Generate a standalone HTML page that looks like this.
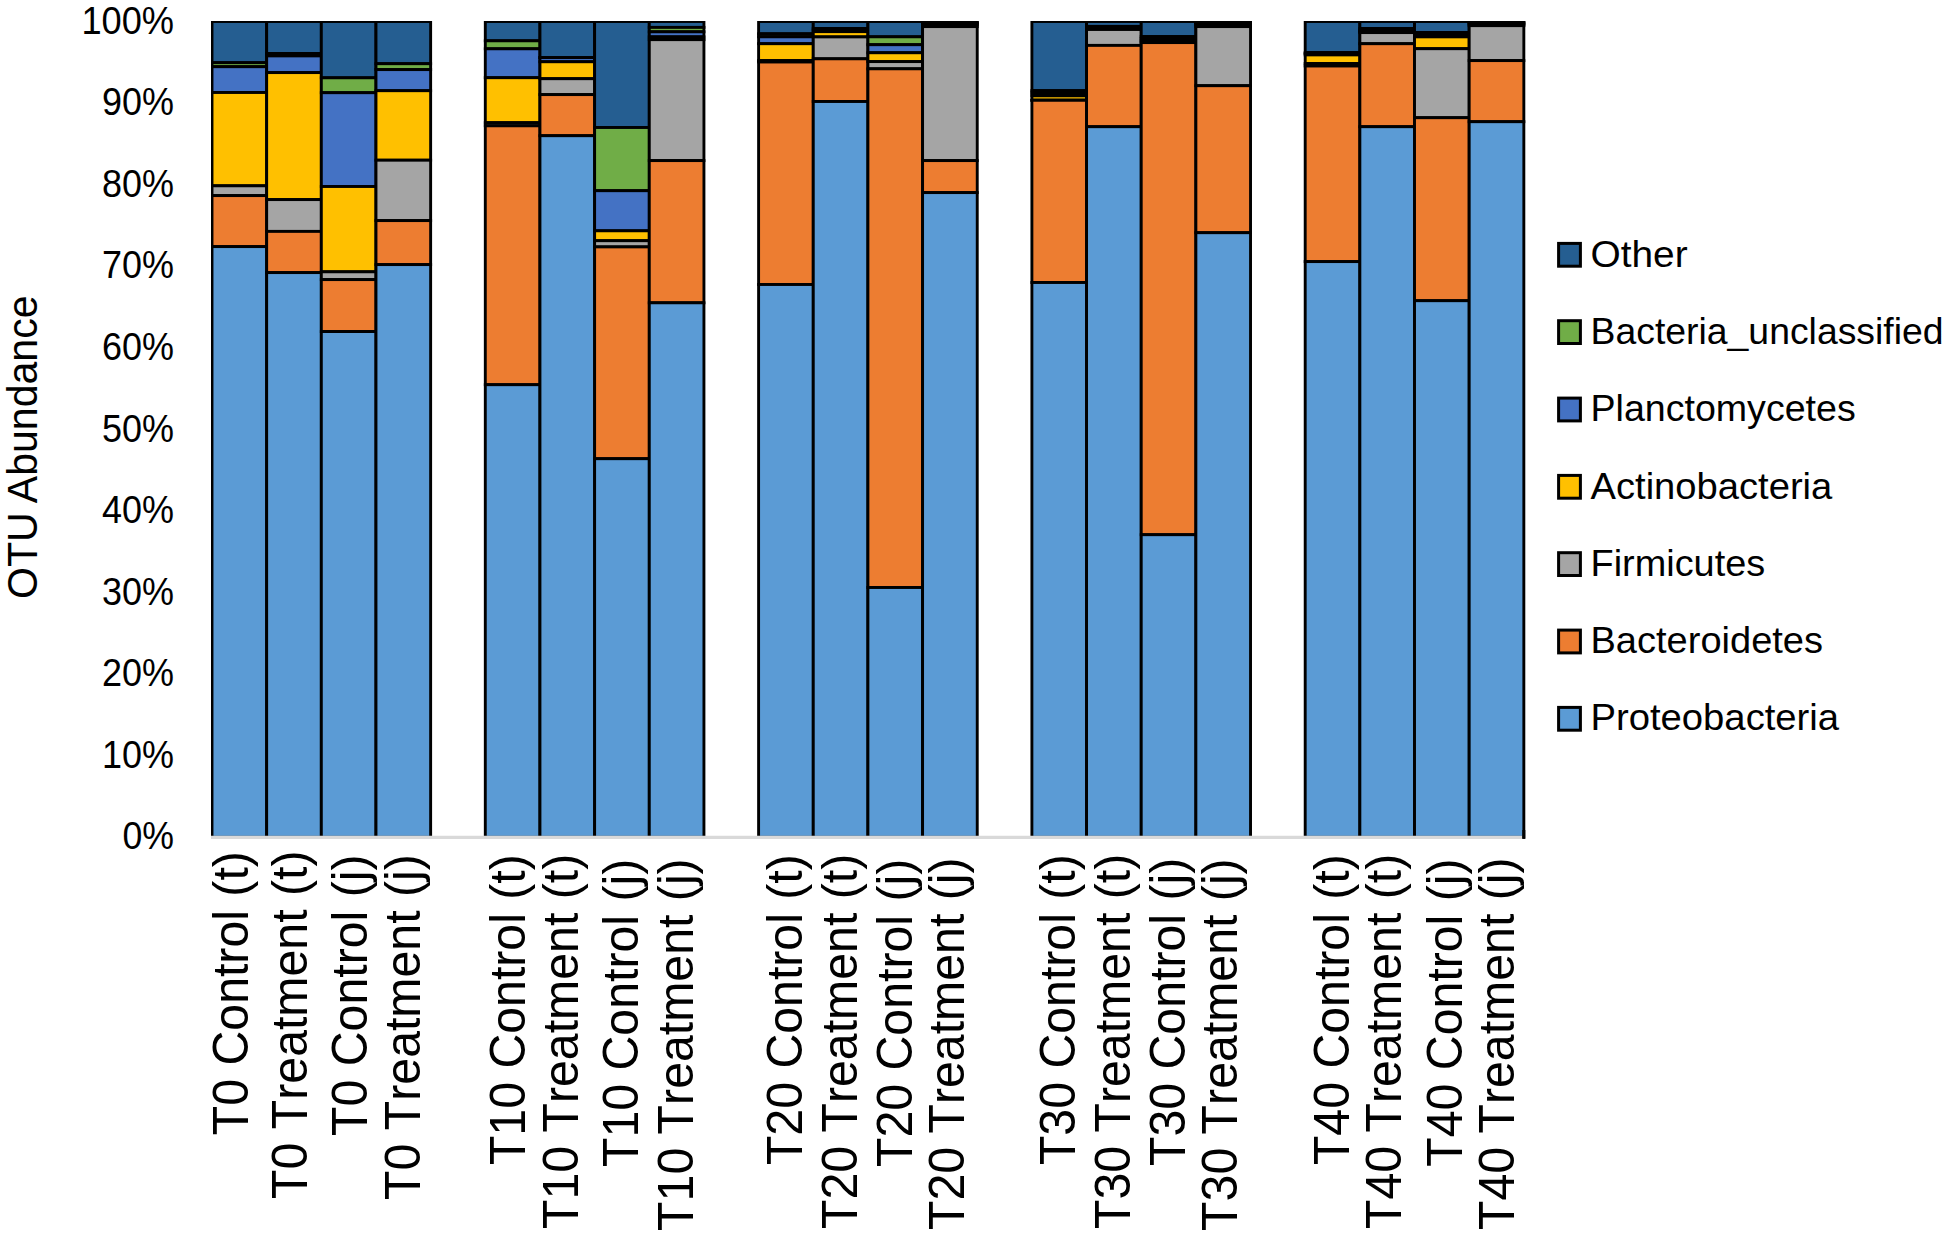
<!DOCTYPE html>
<html lang="en">
<head>
<meta charset="utf-8">
<title>OTU Abundance</title>
<style>
html,body{margin:0;padding:0;background:#fff;}
body{width:1947px;height:1236px;overflow:hidden;}
svg{display:block;}
text{font-family:"Liberation Sans",sans-serif;fill:#000;}
.seg{stroke:#000;stroke-width:2.9;stroke-linejoin:miter;}
.xl{font-size:48.25px;font-kerning:none;}
.yt{font-size:38.3px;text-anchor:end;}
.lg{font-size:37.6px;}
.ttl{font-size:42px;}
</style>
</head>
<body>
<svg width="1947" height="1236" viewBox="0 0 1947 1236">
<defs><clipPath id="plot"><rect x="211" y="21" width="1330" height="825"/></clipPath></defs>
<rect x="0" y="0" width="1947" height="1236" fill="#ffffff"/>
<g clip-path="url(#plot)">
<rect class="seg" x="212.00" y="21.50" width="54.66" height="41.20" fill="#255E91"/>
<rect class="seg" x="212.00" y="62.70" width="54.66" height="4.00" fill="#70AD47"/>
<rect class="seg" x="212.00" y="66.70" width="54.66" height="25.80" fill="#4472C4"/>
<rect class="seg" x="212.00" y="92.50" width="54.66" height="93.30" fill="#FFC000"/>
<rect class="seg" x="212.00" y="185.80" width="54.66" height="9.80" fill="#A5A5A5"/>
<rect class="seg" x="212.00" y="195.60" width="54.66" height="51.00" fill="#ED7D31"/>
<rect class="seg" x="212.00" y="246.60" width="54.66" height="590.70" fill="#5B9BD5"/>
<rect class="seg" x="266.66" y="21.50" width="54.66" height="32.00" fill="#255E91"/>
<rect class="seg" x="266.66" y="53.50" width="54.66" height="2.40" fill="#70AD47"/>
<rect class="seg" x="266.66" y="55.90" width="54.66" height="16.70" fill="#4472C4"/>
<rect class="seg" x="266.66" y="72.60" width="54.66" height="127.00" fill="#FFC000"/>
<rect class="seg" x="266.66" y="199.60" width="54.66" height="31.80" fill="#A5A5A5"/>
<rect class="seg" x="266.66" y="231.40" width="54.66" height="41.20" fill="#ED7D31"/>
<rect class="seg" x="266.66" y="272.60" width="54.66" height="564.70" fill="#5B9BD5"/>
<rect class="seg" x="321.32" y="21.50" width="54.66" height="56.30" fill="#255E91"/>
<rect class="seg" x="321.32" y="77.80" width="54.66" height="14.90" fill="#70AD47"/>
<rect class="seg" x="321.32" y="92.70" width="54.66" height="93.80" fill="#4472C4"/>
<rect class="seg" x="321.32" y="186.50" width="54.66" height="85.30" fill="#FFC000"/>
<rect class="seg" x="321.32" y="271.80" width="54.66" height="7.80" fill="#A5A5A5"/>
<rect class="seg" x="321.32" y="279.60" width="54.66" height="51.95" fill="#ED7D31"/>
<rect class="seg" x="321.32" y="331.55" width="54.66" height="505.75" fill="#5B9BD5"/>
<rect class="seg" x="375.98" y="21.50" width="54.66" height="42.20" fill="#255E91"/>
<rect class="seg" x="375.98" y="63.70" width="54.66" height="5.90" fill="#70AD47"/>
<rect class="seg" x="375.98" y="69.60" width="54.66" height="21.10" fill="#4472C4"/>
<rect class="seg" x="375.98" y="90.70" width="54.66" height="69.50" fill="#FFC000"/>
<rect class="seg" x="375.98" y="160.20" width="54.66" height="60.40" fill="#A5A5A5"/>
<rect class="seg" x="375.98" y="220.60" width="54.66" height="44.00" fill="#ED7D31"/>
<rect class="seg" x="375.98" y="264.60" width="54.66" height="572.70" fill="#5B9BD5"/>
<rect class="seg" x="485.30" y="21.50" width="54.66" height="19.30" fill="#255E91"/>
<rect class="seg" x="485.30" y="40.80" width="54.66" height="8.00" fill="#70AD47"/>
<rect class="seg" x="485.30" y="48.80" width="54.66" height="28.90" fill="#4472C4"/>
<rect class="seg" x="485.30" y="77.70" width="54.66" height="45.00" fill="#FFC000"/>
<rect class="seg" x="485.30" y="122.70" width="54.66" height="3.10" fill="#A5A5A5"/>
<rect class="seg" x="485.30" y="125.80" width="54.66" height="258.90" fill="#ED7D31"/>
<rect class="seg" x="485.30" y="384.70" width="54.66" height="452.60" fill="#5B9BD5"/>
<rect class="seg" x="539.96" y="21.50" width="54.66" height="36.05" fill="#255E91"/>
<rect class="seg" x="539.96" y="57.55" width="54.66" height="0.05" fill="#70AD47"/>
<rect class="seg" x="539.96" y="57.60" width="54.66" height="4.15" fill="#4472C4"/>
<rect class="seg" x="539.96" y="61.75" width="54.66" height="16.95" fill="#FFC000"/>
<rect class="seg" x="539.96" y="78.70" width="54.66" height="15.90" fill="#A5A5A5"/>
<rect class="seg" x="539.96" y="94.60" width="54.66" height="41.10" fill="#ED7D31"/>
<rect class="seg" x="539.96" y="135.70" width="54.66" height="701.60" fill="#5B9BD5"/>
<rect class="seg" x="594.62" y="21.50" width="54.66" height="106.00" fill="#255E91"/>
<rect class="seg" x="594.62" y="127.50" width="54.66" height="63.20" fill="#70AD47"/>
<rect class="seg" x="594.62" y="190.70" width="54.66" height="40.10" fill="#4472C4"/>
<rect class="seg" x="594.62" y="230.80" width="54.66" height="9.90" fill="#FFC000"/>
<rect class="seg" x="594.62" y="240.70" width="54.66" height="6.20" fill="#A5A5A5"/>
<rect class="seg" x="594.62" y="246.90" width="54.66" height="211.80" fill="#ED7D31"/>
<rect class="seg" x="594.62" y="458.70" width="54.66" height="378.60" fill="#5B9BD5"/>
<rect class="seg" x="649.28" y="21.50" width="54.66" height="5.90" fill="#255E91"/>
<rect class="seg" x="649.28" y="27.40" width="54.66" height="4.40" fill="#70AD47"/>
<rect class="seg" x="649.28" y="31.80" width="54.66" height="5.05" fill="#4472C4"/>
<rect class="seg" x="649.28" y="36.85" width="54.66" height="2.80" fill="#FFC000"/>
<rect class="seg" x="649.28" y="39.65" width="54.66" height="120.95" fill="#A5A5A5"/>
<rect class="seg" x="649.28" y="160.60" width="54.66" height="142.20" fill="#ED7D31"/>
<rect class="seg" x="649.28" y="302.80" width="54.66" height="534.50" fill="#5B9BD5"/>
<rect class="seg" x="758.60" y="21.50" width="54.66" height="12.30" fill="#255E91"/>
<rect class="seg" x="758.60" y="33.80" width="54.66" height="3.00" fill="#70AD47"/>
<rect class="seg" x="758.60" y="36.80" width="54.66" height="6.90" fill="#4472C4"/>
<rect class="seg" x="758.60" y="43.70" width="54.66" height="16.90" fill="#FFC000"/>
<rect class="seg" x="758.60" y="60.60" width="54.66" height="1.40" fill="#A5A5A5"/>
<rect class="seg" x="758.60" y="62.00" width="54.66" height="222.50" fill="#ED7D31"/>
<rect class="seg" x="758.60" y="284.50" width="54.66" height="552.80" fill="#5B9BD5"/>
<rect class="seg" x="813.26" y="21.50" width="54.66" height="7.05" fill="#255E91"/>
<rect class="seg" x="813.26" y="28.55" width="54.66" height="1.45" fill="#70AD47"/>
<rect class="seg" x="813.26" y="30.00" width="54.66" height="1.65" fill="#4472C4"/>
<rect class="seg" x="813.26" y="31.65" width="54.66" height="5.25" fill="#FFC000"/>
<rect class="seg" x="813.26" y="36.90" width="54.66" height="21.90" fill="#A5A5A5"/>
<rect class="seg" x="813.26" y="58.80" width="54.66" height="42.70" fill="#ED7D31"/>
<rect class="seg" x="813.26" y="101.50" width="54.66" height="735.80" fill="#5B9BD5"/>
<rect class="seg" x="867.92" y="21.50" width="54.66" height="15.30" fill="#255E91"/>
<rect class="seg" x="867.92" y="36.80" width="54.66" height="7.90" fill="#70AD47"/>
<rect class="seg" x="867.92" y="44.70" width="54.66" height="8.05" fill="#4472C4"/>
<rect class="seg" x="867.92" y="52.75" width="54.66" height="8.85" fill="#FFC000"/>
<rect class="seg" x="867.92" y="61.60" width="54.66" height="7.20" fill="#A5A5A5"/>
<rect class="seg" x="867.92" y="68.80" width="54.66" height="518.70" fill="#ED7D31"/>
<rect class="seg" x="867.92" y="587.50" width="54.66" height="249.80" fill="#5B9BD5"/>
<rect class="seg" x="922.58" y="21.50" width="54.66" height="1.00" fill="#255E91"/>
<rect class="seg" x="922.58" y="22.50" width="54.66" height="1.00" fill="#70AD47"/>
<rect class="seg" x="922.58" y="23.50" width="54.66" height="1.00" fill="#4472C4"/>
<rect class="seg" x="922.58" y="24.50" width="54.66" height="2.10" fill="#FFC000"/>
<rect class="seg" x="922.58" y="26.60" width="54.66" height="134.00" fill="#A5A5A5"/>
<rect class="seg" x="922.58" y="160.60" width="54.66" height="32.00" fill="#ED7D31"/>
<rect class="seg" x="922.58" y="192.60" width="54.66" height="644.70" fill="#5B9BD5"/>
<rect class="seg" x="1031.90" y="21.50" width="54.66" height="69.15" fill="#255E91"/>
<rect class="seg" x="1031.90" y="90.65" width="54.66" height="2.35" fill="#70AD47"/>
<rect class="seg" x="1031.90" y="93.00" width="54.66" height="2.80" fill="#4472C4"/>
<rect class="seg" x="1031.90" y="95.80" width="54.66" height="4.40" fill="#FFC000"/>
<rect class="seg" x="1031.90" y="100.20" width="54.66" height="0.10" fill="#A5A5A5"/>
<rect class="seg" x="1031.90" y="100.30" width="54.66" height="182.20" fill="#ED7D31"/>
<rect class="seg" x="1031.90" y="282.50" width="54.66" height="554.80" fill="#5B9BD5"/>
<rect class="seg" x="1086.56" y="21.50" width="54.66" height="4.90" fill="#255E91"/>
<rect class="seg" x="1086.56" y="26.40" width="54.66" height="1.10" fill="#70AD47"/>
<rect class="seg" x="1086.56" y="27.50" width="54.66" height="1.00" fill="#4472C4"/>
<rect class="seg" x="1086.56" y="28.50" width="54.66" height="1.00" fill="#FFC000"/>
<rect class="seg" x="1086.56" y="29.50" width="54.66" height="15.90" fill="#A5A5A5"/>
<rect class="seg" x="1086.56" y="45.40" width="54.66" height="81.30" fill="#ED7D31"/>
<rect class="seg" x="1086.56" y="126.70" width="54.66" height="710.60" fill="#5B9BD5"/>
<rect class="seg" x="1141.22" y="21.50" width="54.66" height="15.10" fill="#255E91"/>
<rect class="seg" x="1141.22" y="36.60" width="54.66" height="1.90" fill="#70AD47"/>
<rect class="seg" x="1141.22" y="38.50" width="54.66" height="1.50" fill="#4472C4"/>
<rect class="seg" x="1141.22" y="40.00" width="54.66" height="1.50" fill="#FFC000"/>
<rect class="seg" x="1141.22" y="41.50" width="54.66" height="1.10" fill="#A5A5A5"/>
<rect class="seg" x="1141.22" y="42.60" width="54.66" height="492.10" fill="#ED7D31"/>
<rect class="seg" x="1141.22" y="534.70" width="54.66" height="302.60" fill="#5B9BD5"/>
<rect class="seg" x="1195.88" y="21.50" width="54.66" height="1.00" fill="#255E91"/>
<rect class="seg" x="1195.88" y="22.50" width="54.66" height="1.00" fill="#70AD47"/>
<rect class="seg" x="1195.88" y="23.50" width="54.66" height="1.00" fill="#4472C4"/>
<rect class="seg" x="1195.88" y="24.50" width="54.66" height="2.10" fill="#FFC000"/>
<rect class="seg" x="1195.88" y="26.60" width="54.66" height="59.10" fill="#A5A5A5"/>
<rect class="seg" x="1195.88" y="85.70" width="54.66" height="147.00" fill="#ED7D31"/>
<rect class="seg" x="1195.88" y="232.70" width="54.66" height="604.60" fill="#5B9BD5"/>
<rect class="seg" x="1305.20" y="21.50" width="54.66" height="31.10" fill="#255E91"/>
<rect class="seg" x="1305.20" y="52.60" width="54.66" height="0.90" fill="#70AD47"/>
<rect class="seg" x="1305.20" y="53.50" width="54.66" height="1.40" fill="#4472C4"/>
<rect class="seg" x="1305.20" y="54.90" width="54.66" height="8.65" fill="#FFC000"/>
<rect class="seg" x="1305.20" y="63.55" width="54.66" height="2.45" fill="#A5A5A5"/>
<rect class="seg" x="1305.20" y="66.00" width="54.66" height="195.60" fill="#ED7D31"/>
<rect class="seg" x="1305.20" y="261.60" width="54.66" height="575.70" fill="#5B9BD5"/>
<rect class="seg" x="1359.86" y="21.50" width="54.66" height="7.05" fill="#255E91"/>
<rect class="seg" x="1359.86" y="28.55" width="54.66" height="1.45" fill="#70AD47"/>
<rect class="seg" x="1359.86" y="30.00" width="54.66" height="1.50" fill="#4472C4"/>
<rect class="seg" x="1359.86" y="31.50" width="54.66" height="1.10" fill="#FFC000"/>
<rect class="seg" x="1359.86" y="32.60" width="54.66" height="11.10" fill="#A5A5A5"/>
<rect class="seg" x="1359.86" y="43.70" width="54.66" height="83.00" fill="#ED7D31"/>
<rect class="seg" x="1359.86" y="126.70" width="54.66" height="710.60" fill="#5B9BD5"/>
<rect class="seg" x="1414.52" y="21.50" width="54.66" height="11.05" fill="#255E91"/>
<rect class="seg" x="1414.52" y="32.55" width="54.66" height="1.45" fill="#70AD47"/>
<rect class="seg" x="1414.52" y="34.00" width="54.66" height="2.85" fill="#4472C4"/>
<rect class="seg" x="1414.52" y="36.85" width="54.66" height="11.85" fill="#FFC000"/>
<rect class="seg" x="1414.52" y="48.70" width="54.66" height="69.00" fill="#A5A5A5"/>
<rect class="seg" x="1414.52" y="117.70" width="54.66" height="183.00" fill="#ED7D31"/>
<rect class="seg" x="1414.52" y="300.70" width="54.66" height="536.60" fill="#5B9BD5"/>
<rect class="seg" x="1469.18" y="21.50" width="54.66" height="0.80" fill="#255E91"/>
<rect class="seg" x="1469.18" y="22.30" width="54.66" height="0.90" fill="#70AD47"/>
<rect class="seg" x="1469.18" y="23.20" width="54.66" height="1.00" fill="#4472C4"/>
<rect class="seg" x="1469.18" y="24.20" width="54.66" height="1.45" fill="#FFC000"/>
<rect class="seg" x="1469.18" y="25.65" width="54.66" height="34.95" fill="#A5A5A5"/>
<rect class="seg" x="1469.18" y="60.60" width="54.66" height="61.10" fill="#ED7D31"/>
<rect class="seg" x="1469.18" y="121.70" width="54.66" height="715.60" fill="#5B9BD5"/>
</g>
<line x1="211" y1="837.35" x2="1522.3" y2="837.35" stroke="#D9D9D9" stroke-width="3.2"/>
<line x1="1523.84" y1="830" x2="1523.84" y2="838.8" stroke="#000" stroke-width="2.9"/>
<text class="yt" x="174.1" y="33.8" textLength="92.7" lengthAdjust="spacingAndGlyphs">100%</text>
<text class="yt" x="174.1" y="115.4" textLength="72.0" lengthAdjust="spacingAndGlyphs">90%</text>
<text class="yt" x="174.1" y="196.9" textLength="72.0" lengthAdjust="spacingAndGlyphs">80%</text>
<text class="yt" x="174.1" y="278.4" textLength="72.0" lengthAdjust="spacingAndGlyphs">70%</text>
<text class="yt" x="174.1" y="360.0" textLength="72.0" lengthAdjust="spacingAndGlyphs">60%</text>
<text class="yt" x="174.1" y="441.6" textLength="72.0" lengthAdjust="spacingAndGlyphs">50%</text>
<text class="yt" x="174.1" y="523.1" textLength="72.0" lengthAdjust="spacingAndGlyphs">40%</text>
<text class="yt" x="174.1" y="604.7" textLength="72.0" lengthAdjust="spacingAndGlyphs">30%</text>
<text class="yt" x="174.1" y="686.2" textLength="72.0" lengthAdjust="spacingAndGlyphs">20%</text>
<text class="yt" x="174.1" y="767.8" textLength="72.0" lengthAdjust="spacingAndGlyphs">10%</text>
<text class="yt" x="174.1" y="849.3" textLength="51.6" lengthAdjust="spacingAndGlyphs">0%</text>
<text class="ttl" transform="translate(37.3 447.25) rotate(-90)" text-anchor="middle" textLength="303.5" lengthAdjust="spacingAndGlyphs">OTU Abundance</text>
<text class="xl" transform="translate(247.90 1135.21) rotate(-90) scale(1 1.02)">T0 Control (t)</text>
<text class="xl" transform="translate(306.60 1198.91) rotate(-90) scale(1 1.02)">T0 Treatment (t)</text>
<text class="xl" transform="translate(367.10 1135.91) rotate(-90) scale(1 1.02)">T0 Control (j)</text>
<text class="xl" transform="translate(419.60 1199.91) rotate(-90) scale(1 1.02)">T0 Treatment (j)</text>
<text class="xl" transform="translate(525.20 1165.11) rotate(-90) scale(1 1.02)">T10 Control (t)</text>
<text class="xl" transform="translate(577.70 1229.01) rotate(-90) scale(1 1.02)">T10 Treatment (t)</text>
<text class="xl" transform="translate(638.25 1167.01) rotate(-90) scale(1 1.02)">T10 Control (j)</text>
<text class="xl" transform="translate(693.30 1230.91) rotate(-90) scale(1 1.02)">T10 Treatment (j)</text>
<text class="xl" transform="translate(801.60 1165.11) rotate(-90) scale(1 1.02)">T20 Control (t)</text>
<text class="xl" transform="translate(856.90 1229.01) rotate(-90) scale(1 1.02)">T20 Treatment (t)</text>
<text class="xl" transform="translate(911.70 1167.01) rotate(-90) scale(1 1.02)">T20 Control (j)</text>
<text class="xl" transform="translate(963.65 1230.01) rotate(-90) scale(1 1.02)">T20 Treatment (j)</text>
<text class="xl" transform="translate(1075.20 1165.11) rotate(-90) scale(1 1.02)">T30 Control (t)</text>
<text class="xl" transform="translate(1130.20 1229.01) rotate(-90) scale(1 1.02)">T30 Treatment (t)</text>
<text class="xl" transform="translate(1185.25 1166.01) rotate(-90) scale(1 1.02)">T30 Control (j)</text>
<text class="xl" transform="translate(1237.20 1230.91) rotate(-90) scale(1 1.02)">T30 Treatment (j)</text>
<text class="xl" transform="translate(1348.60 1165.11) rotate(-90) scale(1 1.02)">T40 Control (t)</text>
<text class="xl" transform="translate(1400.90 1229.01) rotate(-90) scale(1 1.02)">T40 Treatment (t)</text>
<text class="xl" transform="translate(1461.80 1166.71) rotate(-90) scale(1 1.02)">T40 Control (j)</text>
<text class="xl" transform="translate(1513.70 1230.01) rotate(-90) scale(1 1.02)">T40 Treatment (j)</text>
<rect x="1558.6" y="243.4" width="21.8" height="22.8" fill="#255E91" stroke="#000" stroke-width="3"/>
<text class="lg" x="1590.5" y="267.0" textLength="97.1" lengthAdjust="spacingAndGlyphs">Other</text>
<rect x="1558.6" y="320.7" width="21.8" height="22.8" fill="#70AD47" stroke="#000" stroke-width="3"/>
<text class="lg" x="1590.5" y="344.2" textLength="353.1" lengthAdjust="spacingAndGlyphs">Bacteria_unclassified</text>
<rect x="1558.6" y="398.1" width="21.8" height="22.8" fill="#4472C4" stroke="#000" stroke-width="3"/>
<text class="lg" x="1590.5" y="421.4" textLength="265.2" lengthAdjust="spacingAndGlyphs">Planctomycetes</text>
<rect x="1558.6" y="475.4" width="21.8" height="22.8" fill="#FFC000" stroke="#000" stroke-width="3"/>
<text class="lg" x="1590.5" y="498.7" textLength="241.8" lengthAdjust="spacingAndGlyphs">Actinobacteria</text>
<rect x="1558.6" y="552.7" width="21.8" height="22.8" fill="#A5A5A5" stroke="#000" stroke-width="3"/>
<text class="lg" x="1590.5" y="575.9" textLength="174.7" lengthAdjust="spacingAndGlyphs">Firmicutes</text>
<rect x="1558.6" y="630.1" width="21.8" height="22.8" fill="#ED7D31" stroke="#000" stroke-width="3"/>
<text class="lg" x="1590.5" y="653.1" textLength="232.5" lengthAdjust="spacingAndGlyphs">Bacteroidetes</text>
<rect x="1558.6" y="707.4" width="21.8" height="22.8" fill="#5B9BD5" stroke="#000" stroke-width="3"/>
<text class="lg" x="1590.5" y="730.3" textLength="248.6" lengthAdjust="spacingAndGlyphs">Proteobacteria</text>
</svg>
</body>
</html>
